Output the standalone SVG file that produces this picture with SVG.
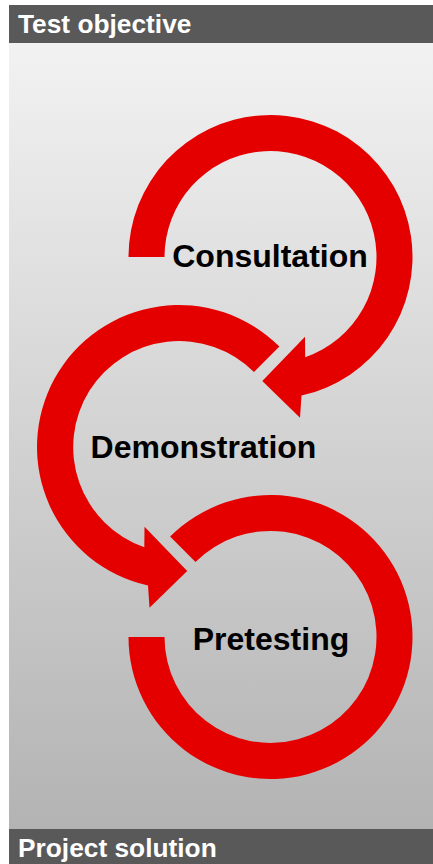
<svg xmlns="http://www.w3.org/2000/svg" width="433" height="864" viewBox="0 0 433 864">
  <defs>
    <linearGradient id="bg" x1="0" y1="0" x2="0" y2="1">
      <stop offset="0" stop-color="#f2f2f2"/>
      <stop offset="1" stop-color="#b3b3b3"/>
    </linearGradient>
    <style>
      .bar { fill: #595959; }
      .bartext { font-family: "Liberation Sans", Arial, sans-serif; font-weight: bold; font-size: 26.3px; fill: #ffffff; }
      .ring { fill: #e50000; }
      .label { font-family: "Liberation Sans", Arial, sans-serif; font-weight: bold; font-size: 32px; fill: #000000; text-anchor: middle; }
    </style>
  </defs>
  <rect x="0" y="0" width="433" height="864" fill="#ffffff"/>
  <rect x="9" y="43" width="424" height="786" fill="url(#bg)"/>

  <g id="header">
    <rect class="bar" x="9" y="5" width="424" height="38"/>
    <text class="bartext" x="18" y="33">Test objective</text>
  </g>

  <g id="consultation">
    <path class="ring" d="M128.5,257 A142,142 0 1 1 301.5,395.6 L300,417.7 L262.3,381 L305,336.7 L305.2,357.2 A106,106 0 1 0 164.5,257 Z"/>
    <text class="label" x="270" y="266.5">Consultation</text>
  </g>

  <g id="demonstration">
    <path class="ring" d="M279.4,346.6 A142,142 0 1 0 148.0,585.6 L149.5,607.7 L187.2,571 L144.5,526.7 L144.3,547.2 A106,106 0 1 1 254.0,372.0 Z"/>
    <text class="label" x="203.5" y="457.5">Demonstration</text>
  </g>

  <g id="pretesting">
    <path class="ring" d="M170.1,536.6 A142,142 0 1 1 128.5,637 L164.5,637 A106,106 0 1 0 195.5,562.0 Z"/>
    <text class="label" x="271" y="650">Pretesting</text>
  </g>

  <g id="connectors"></g>

  <g id="footer">
    <rect class="bar" x="9" y="829" width="424" height="35"/>
    <text class="bartext" x="18" y="857">Project solution</text>
  </g>
</svg>
